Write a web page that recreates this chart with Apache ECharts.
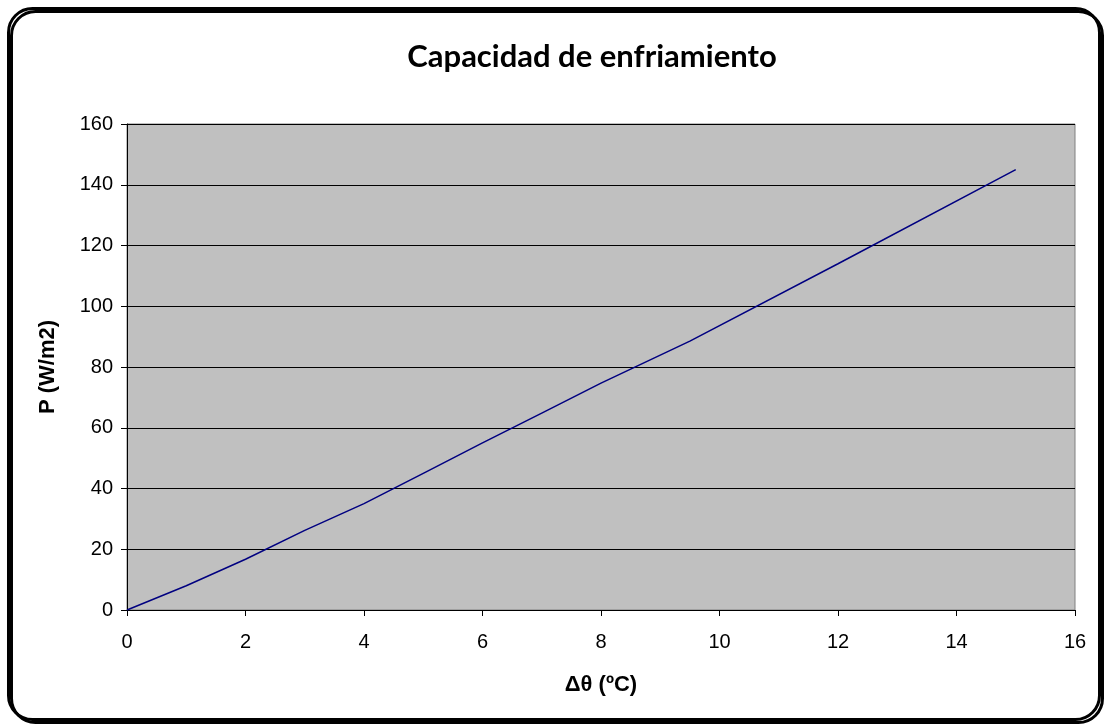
<!DOCTYPE html>
<html>
<head>
<meta charset="utf-8">
<title>Capacidad de enfriamiento</title>
<script src="https://cdn.jsdelivr.net/npm/echarts@6/dist/echarts.min.js"></script>
<style>
  html, body { margin: 0; padding: 0; background: #fff; }
  #chart { width: 1106px; height: 726px; }
</style>
</head>
<body>
<div id="chart"></div>
<script type="application/javascript">
// datos
var deltaTheta = [0, 1, 2, 3, 4, 5, 6, 7, 8, 9.5, 12, 15];
var potencia = [0, 8, 16.7, 26.2, 35, 45, 55, 64.8, 74.7, 88.5, 114, 145];

var xTicks = { min: 0, max: 16, interval: 2 };
var yTicks = { min: 0, max: 160, interval: 20 };

var puntos = [];
for (var i = 0; i < deltaTheta.length; i++) {
    puntos.push([deltaTheta[i], potencia[i]]);
}

var myChart = echarts.init(document.getElementById('chart'));
var option = {
    animation: false,
    graphic: [{
        type: 'rect',
        shape: { x: 8.5, y: 8.5, width: 1091, height: 711, r: 24 },
        style: {
            fill: 'none',
            stroke: '#000',
            lineWidth: 3,
            shadowColor: '#000',
            shadowOffsetX: 3,
            shadowOffsetY: 3,
            shadowBlur: 0
        },
        z: -1
    }],
    title: {
        text: 'Capacidad de enfriamiento',
        left: 587,
        textAlign: 'center',
        top: 36,
        textStyle: { fontFamily: 'Lato', fontWeight: 'bold', fontSize: 31, color: '#000' }
    },
    grid: {
        left: 127, top: 124, width: 948, height: 486,
        show: true,
        backgroundColor: '#c0c0c0',
        borderColor: '#808080',
        borderWidth: 1
    },
    xAxis: {
        type: 'value',
        min: xTicks.min, max: xTicks.max, interval: xTicks.interval,
        name: 'Δθ (ºC)',
        nameLocation: 'middle',
        nameGap: 64,
        nameTextStyle: { fontFamily: 'Liberation Sans', fontWeight: 'bold', fontSize: 22, color: '#000' },
        axisLine: { show: true, lineStyle: { color: '#000', width: 1 } },
        axisTick: { show: true, inside: false, length: 6, lineStyle: { color: '#000' } },
        axisLabel: { fontFamily: 'Liberation Sans', fontSize: 20, color: '#000', margin: 22 },
        splitLine: { show: false }
    },
    yAxis: {
        type: 'value',
        min: yTicks.min, max: yTicks.max, interval: yTicks.interval,
        name: 'P (W/m2)',
        nameLocation: 'middle',
        nameGap: 68,
        nameRotate: 90,
        nameTextStyle: { fontFamily: 'Liberation Sans', fontWeight: 'bold', fontSize: 22, color: '#000' },
        axisLine: { show: true, lineStyle: { color: '#000', width: 1 } },
        axisTick: { show: true, inside: false, length: 6, lineStyle: { color: '#000' } },
        axisLabel: { fontFamily: 'Liberation Sans', fontSize: 20, color: '#000', margin: 14 },
        splitLine: { show: true, lineStyle: { color: '#000', width: 1 } }
    },
    series: [{
        type: 'line',
        data: puntos,
        showSymbol: false,
        lineStyle: { color: '#000080', width: 1.5 }
    }]
};
myChart.setOption(option);
</script>
</body>
</html>
